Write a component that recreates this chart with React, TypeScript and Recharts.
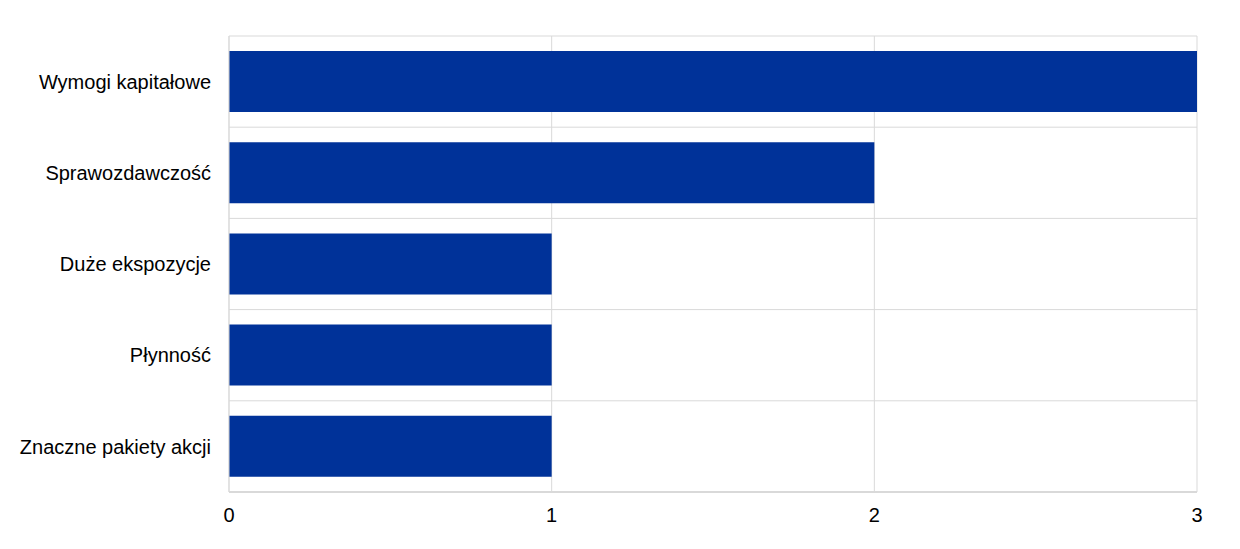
import React from "react";
import { BarChart, Bar, XAxis, YAxis, CartesianGrid } from "recharts";

const categories = [
  "Wymogi kapitałowe",
  "Sprawozdawczość",
  "Duże ekspozycje",
  "Płynność",
  "Znaczne pakiety akcji",
];
const values = [3, 2, 1, 1, 1];
const xTicks = [0, 1, 2, 3];

const data = categories.map((name, i) => ({ name, value: values[i] }));

const gridColor = "#d9d9d9";
const font = "Liberation Sans, Arial, sans-serif";

export default function App() {
  return (
    <div style={{ position: "absolute", left: 0, top: 0 }}>
      <BarChart
        width={1240}
        height={549}
        data={data}
        layout="vertical"
        margin={{ top: 36, right: 43, bottom: 0, left: 0 }}
      >
        <CartesianGrid
          stroke={gridColor}
          horizontalCoordinatesGenerator={({ offset }: any) => {
            const n = categories.length;
            const arr: number[] = [];
            for (let i = 0; i <= n; i++) arr.push(offset.top + (i * offset.height) / n);
            return arr;
          }}
        />
        <XAxis
          type="number"
          domain={[0, 3]}
          ticks={xTicks}
          height={57}
          tickLine={false}
          tickSize={0}
          tickMargin={16}
          axisLine={{ stroke: gridColor, strokeWidth: 2 }}
          tick={{ fill: "#000", fontSize: 20, fontFamily: font }}
        />
        <YAxis
          type="category"
          dataKey="name"
          width={229}
          tickLine={false}
          tickSize={0}
          tickMargin={18}
          axisLine={{ stroke: gridColor }}
          tick={{ fill: "#000", fontSize: 20, fontFamily: font }}
        />
        <Bar dataKey="value" fill="#003299" barSize={61} isAnimationActive={false} />
      </BarChart>
    </div>
  );
}
